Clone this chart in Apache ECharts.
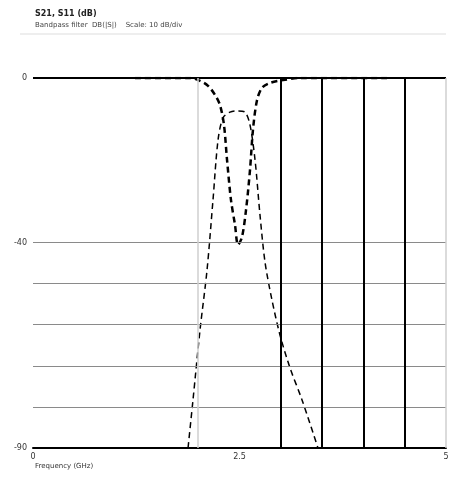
<!DOCTYPE html>
<html><head><meta charset="utf-8">
<script src="https://cdn.jsdelivr.net/npm/echarts@6/dist/echarts.min.js"></script>
<style>html,body{margin:0;padding:0;background:#fff}#c{width:459px;height:478px}</style>
</head><body><div id="c"></div>
<script>
// Data
var titleLine1 = 'S21, S11 (dB)';
var titleLine2 = 'Bandpass filter  DB(|S|)    Scale: 10 dB/div';
var xAxisName = 'Frequency (GHz)';
var xTickLabels = [0, 2.5, 5];
var yTickLabels = [0, -40, -90];
var s21Freq = [1.877,1.937,2.022,2.107,2.179,2.240,2.300,2.385,2.482,2.567,2.627,2.688,2.748,2.809,2.893,2.990,3.111,3.257,3.450];
var s21dB   = [-90,-78.3,-61.3,-46.7,-29.7,-15.1,-9.7,-8.3,-8.0,-8.3,-11.4,-19.9,-33.3,-44.8,-54.0,-62.5,-70.5,-78.3,-90];
var s11Freq = [1.235,1.90,2.022,2.119,2.203,2.264,2.312,2.349,2.397,2.446,2.482,2.530,2.579,2.627,2.663,2.712,2.772,2.869,3.027,3.232,4.322];
var s11dB   = [0,0,-0.7,-1.9,-4.1,-6.6,-11.4,-19.9,-29.7,-35.8,-40.6,-38.7,-32.1,-22.4,-12.6,-5.4,-2.4,-1.2,-0.5,0,0];
var hGridGray = [-40,-50,-60,-70,-80];
var vGridBlack = [3,3.5,4,4.5];
var vGridLight = [2,5];

function pairs(xs, ys){ return xs.map(function(x,i){return [x, ys[i]];}); }
var chart = echarts.init(document.getElementById('c'));
var ml = [];
hGridGray.forEach(function(v){ ml.push({yAxis:v, lineStyle:{color:'#8a8a8a', width:1.2, type:'solid'}}); });
ml.push({yAxis:0, lineStyle:{color:'#000', width:2, type:'solid'}});
vGridLight.forEach(function(v){ ml.push({xAxis:v, lineStyle:{color:'#cfcfcf', width:1.5, type:'solid'}}); });
vGridBlack.forEach(function(v){ ml.push({xAxis:v, lineStyle:{color:'#000', width:2, type:'solid'}}); });

chart.setOption({
  animation:false,
  backgroundColor:'#fff',
  graphic:[
    {type:'text', left:35, top:10, style:{text:titleLine1, font:'bold 8px "DejaVu Sans"', fill:'#222'}},
    {type:'text', left:35, top:22, style:{text:titleLine2, font:'7px "DejaVu Sans"', fill:'#444'}},
    {type:'line', shape:{x1:20,y1:34,x2:446,y2:34}, style:{stroke:'#dddddd', lineWidth:1}},
    {type:'text', left:35, top:463, style:{text:xAxisName, font:'7px "DejaVu Sans"', fill:'#333'}}
  ],
  grid:{left:33, right:13, top:78, bottom:30},
  xAxis:{type:'value', min:0, max:5, interval:0.5,
    axisLine:{show:true, onZero:false, lineStyle:{color:'#000', width:2}},
    axisTick:{show:false}, splitLine:{show:false},
    axisLabel:{fontSize:8, color:'#333', margin:5, fontFamily:'DejaVu Sans',
      formatter:function(v){ return xTickLabels.indexOf(v)>=0 ? String(v) : ''; }}},
  yAxis:{type:'value', min:-90, max:0, interval:10,
    axisLine:{show:false}, axisTick:{show:false}, splitLine:{show:false},
    axisLabel:{fontSize:8, color:'#333', margin:6, fontFamily:'DejaVu Sans',
      formatter:function(v){ return yTickLabels.indexOf(v)>=0 ? String(v) : ''; }}},
  series:[
    {type:'line', data:[], silent:true, markLine:{symbol:'none', silent:true, label:{show:false}, data:ml}},
    {name:'S21', type:'line', data:pairs(s21Freq,s21dB), showSymbol:false, smooth:0.3,
      lineStyle:{color:'#000', width:1.5, type:[6,4]}},
    {name:'S11', type:'line', data:pairs(s11Freq,s11dB), showSymbol:false, smooth:0.3,
      lineStyle:{color:'#000', width:2.5, type:[6,4]}}
  ]
});
</script></body></html>
